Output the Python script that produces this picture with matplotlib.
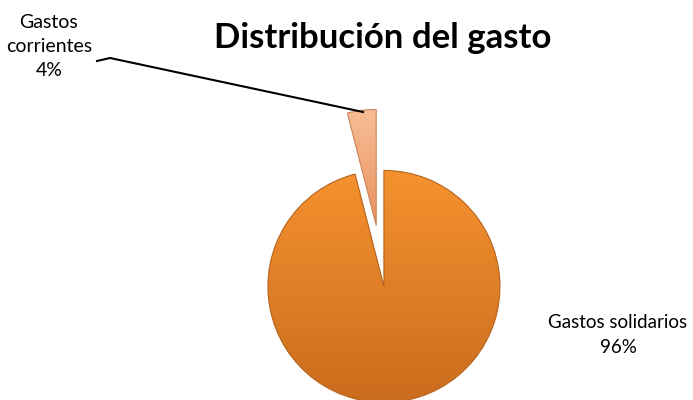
import matplotlib
matplotlib.use("Agg")
import matplotlib.pyplot as plt
import numpy as np
from matplotlib.colors import LinearSegmentedColormap

categories = ["Gastos corrientes", "Gastos solidarios"]
values = [4, 96]
title = "Distribución del gasto"

colors_top = ["#F8BE96", "#F5922F"]
colors_bot = ["#E8915E", "#CA6C1D"]

W, H = 693, 400
fig = plt.figure(figsize=(W / 100, H / 100), dpi=100)
ax = fig.add_axes([0, 0, 1, 1])

cx, cy, r = 383.5, H - 283, 116
wedges, _ = ax.pie(values, startangle=90, counterclock=True, radius=r,
                   center=(cx, cy), explode=[0.50 * r, 0.03 * r],
                   colors=[colors_top[i] for i in range(len(values))],
                   wedgeprops=dict(linewidth=0.8),
                   frame=True)
ax.set_xlim(0, W)
ax.set_ylim(0, H)
ax.set_aspect("equal")
ax.axis("off")

# gradient fill
grad = np.linspace(0, 1, 256).reshape(-1, 1)
edge_cols = ["#C9845A", "#B5621C"]
for i, w in enumerate(wedges):
    cmap = LinearSegmentedColormap.from_list("g%d" % i, [colors_bot[i], colors_top[i]])
    ext = w.get_path().get_extents(w.get_patch_transform())
    im = ax.imshow(grad, cmap=cmap, origin="lower", aspect="auto",
                   extent=[ext.x0, ext.x1, ext.y0, ext.y1], zorder=w.get_zorder() + 0.1)
    im.set_clip_path(w)
    w.set_edgecolor(edge_cols[i])
    w.set_zorder(w.get_zorder() + 0.2)
    w.set_facecolor("none")
ax.set_xlim(0, W)
ax.set_ylim(0, H)

total = sum(values)
pct = [f"{round(v / total * 100)}%" for v in values]

fam = ["Lato", "DejaVu Sans"]
ax.text(383, H - 38, title, ha="center", va="center", fontsize=25,
        fontweight="bold", family=fam)

ax.text(49, H - 46, f"Gastos\ncorrientes\n{pct[0]}", ha="center", va="center",
        fontsize=14, family=fam, linespacing=1.5)
ax.text(618, H - 335, f"Gastos solidarios\n{pct[1]}", ha="center", va="center",
        fontsize=13.5, family=fam, linespacing=1.6)

ax.plot([97, 110, 363], [H - 61, H - 58, H - 112], color="black", lw=1.5, zorder=10)

fig.savefig("out.png", dpi=100)
